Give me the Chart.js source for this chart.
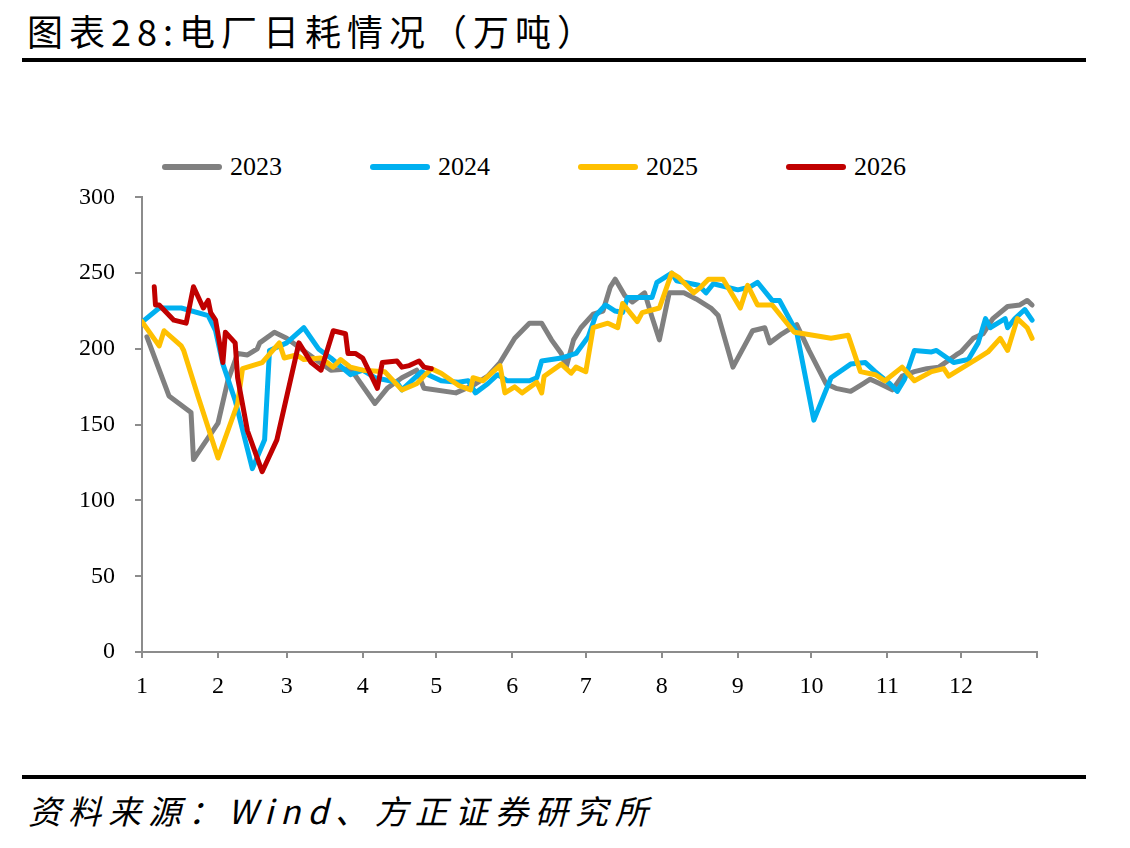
<!DOCTYPE html>
<html>
<head>
  <meta charset="UTF-8">
  <title>电厂日耗情况</title>
  <script src="https://cdn.jsdelivr.net/npm/chart.js"></script>
  <style>
    body {
      margin: 0;
      background: #fff;
      width: 1130px;
      height: 848px;
      position: relative;
      overflow: hidden;
    }
    #title {
      position: absolute;
      left: 27px;
      top: 4px;
      font-family: "Noto Sans CJK SC", sans-serif;
      font-size: 36px;
      letter-spacing: 6px;
      color: #000;
      white-space: nowrap;
    }
    .rule {
      position: absolute;
      left: 22px;
      width: 1064px;
      height: 4px;
      background: #000;
    }
    #source {
      position: absolute;
      left: 28px;
      top: 786px;
      font-family: "Noto Sans CJK SC", sans-serif;
      font-style: italic;
      font-size: 33px;
      letter-spacing: 7px;
      color: #000;
      white-space: nowrap;
    }
    #legend {
      position: absolute;
      left: 162px;
      top: 152px;
      display: flex;
    }
    #legend .item {
      width: 208px;
      display: flex;
      align-items: center;
    }
    #legend .swatch {
      width: 60px;
      height: 6px;
      border-radius: 3px;
      margin-right: 8px;
    }
    #legend .label {
      font-family: "Liberation Serif", serif;
      font-size: 26px;
      color: #000;
    }
    #chartBox {
      position: absolute;
      left: 0;
      top: 163px;
      width: 1072px;
      height: 557px;
    }
  </style>
</head>
<body>
  <div id="title">图表28:电厂日耗情况（万吨）</div>
  <div class="rule" style="top:58px"></div>

  <div id="legend"></div>
  <div id="chartBox"><canvas id="coalChart"></canvas></div>

  <div class="rule" style="top:775px"></div>
  <div id="source">资料来源：Wind、方正证券研究所</div>

  <script>
  // x axis: day of year, ticks at the first day of each month
  const monthStarts = [0, 31, 59, 90, 120, 151, 181, 212, 243, 273, 304, 334, 365];
  const monthLabels = ['1', '2', '3', '4', '5', '6', '7', '8', '9', '10', '11', '12', ''];

  // 2023 (day of year / 万吨)
  const days2023 = [2, 11, 20, 21, 31, 35, 39, 43, 47, 48, 54, 59, 70, 77, 85, 95, 100, 106, 112, 115, 128, 135, 141, 146, 152, 158, 163, 167, 171, 173, 176, 179, 184, 188, 191, 193, 197, 200, 205, 208, 211, 215, 221, 226, 232, 235, 241, 247, 249, 254, 256, 261, 267, 272, 279, 283, 289, 294, 297, 301, 306, 310, 315, 320, 325, 332, 334, 339, 343, 347, 353, 358, 361, 363];
  const vals2023 = [208, 169, 158, 127, 151, 179, 197, 196, 200, 204, 211, 207, 194, 186, 187, 164, 174, 181, 186, 174, 171, 176, 182, 191, 207, 217, 217, 206, 197, 188, 206, 214, 223, 225, 241, 246, 235, 231, 237, 221, 206, 237, 237, 233, 227, 222, 188, 206, 212, 214, 204, 210, 216, 199, 177, 174, 172, 177, 180, 177, 173, 182, 185, 187, 188, 196, 198, 207, 210, 220, 228, 229, 232, 229];

  // 2024
  const days2024 = [1, 7, 16, 27, 30, 33, 38, 45, 50, 52, 59, 66, 72, 77, 85, 90, 95, 104, 106, 114, 122, 129, 133, 136, 141, 145, 149, 158, 161, 163, 171, 177, 182, 185, 189, 193, 196, 198, 208, 210, 216, 218, 227, 230, 233, 243, 248, 251, 257, 260, 266, 267, 274, 281, 289, 295, 299, 305, 308, 311, 315, 322, 324, 331, 337, 341, 344, 346, 352, 353, 356, 360, 363];
  const vals2024 = [219, 227, 227, 222, 212, 190, 166, 121, 140, 199, 204, 214, 200, 194, 183, 186, 181, 178, 173, 185, 179, 178, 179, 171, 177, 183, 179, 179, 181, 192, 194, 197, 208, 222, 229, 225, 224, 234, 234, 244, 250, 245, 242, 237, 243, 239, 241, 244, 232, 232, 214, 211, 153, 181, 190, 191, 185, 177, 172, 180, 199, 198, 199, 191, 193, 204, 220, 214, 220, 214, 220, 226, 219];

  // 2025
  const days2025 = [0, 7, 9, 16, 17, 23, 31, 39, 41, 49, 56, 58, 63, 66, 73, 78, 81, 85, 90, 99, 106, 112, 118, 122, 129, 134, 135, 139, 146, 148, 152, 155, 161, 163, 164, 171, 175, 177, 181, 184, 190, 194, 196, 202, 204, 211, 216, 219, 225, 228, 231, 237, 244, 247, 251, 257, 266, 270, 281, 288, 293, 299, 303, 310, 315, 322, 327, 329, 334, 341, 345, 350, 353, 357, 361, 363];
  const vals2025 = [218, 202, 212, 202, 199, 168, 128, 164, 187, 191, 204, 194, 196, 193, 194, 188, 193, 188, 186, 185, 173, 177, 187, 184, 176, 173, 181, 179, 189, 171, 175, 171, 178, 171, 182, 190, 184, 188, 185, 214, 217, 214, 230, 218, 224, 227, 250, 247, 237, 241, 246, 246, 227, 242, 229, 229, 211, 210, 207, 209, 185, 183, 179, 188, 179, 185, 187, 182, 187, 194, 198, 207, 199, 220, 214, 207];

  // 2026
  const days2026 = [5, 5.5, 7, 13, 18, 21, 25, 27, 28, 30, 33, 34, 38, 39, 43, 49, 55, 64, 69, 73, 78, 83, 84, 87, 90, 96, 98, 104, 106, 109, 113, 115, 118];
  const vals2026 = [241, 229, 229, 219, 217, 241, 227, 232, 224, 219, 191, 211, 204, 181, 146, 119, 140, 204, 191, 186, 212, 210, 197, 197, 194, 174, 191, 192, 188, 189, 192, 188, 187];

  const seriesNames = ['2023', '2024', '2025', '2026'];
  const seriesColors = ['#808080', '#00B0F0', '#FFC000', '#C00000'];
  const seriesDays = [days2023, days2024, days2025, days2026];
  const seriesVals = [vals2023, vals2024, vals2025, vals2026];

  const datasets = seriesNames.map((name, i) => ({
    label: name,
    data: seriesDays[i].map((d, k) => ({ x: d, y: seriesVals[i][k] })),
    borderColor: seriesColors[i],
    backgroundColor: seriesColors[i],
    borderWidth: 5,
    borderJoinStyle: 'round',
    borderCapStyle: 'round',
    pointRadius: 0,
    tension: 0,
    order: seriesNames.length - i   // later years on top
  }));

  const axisGray = '#8c8c8c';
  const tickFont = { family: 'Liberation Serif', size: 24 };

  const chart = new Chart(document.getElementById('coalChart'), {
    type: 'line',
    data: { datasets: datasets },
    options: {
      responsive: true,
      maintainAspectRatio: false,
      animation: false,
      layout: { padding: { left: 60, right: 35, top: 0, bottom: 18 } },
      plugins: {
        legend: { display: false },
        tooltip: { enabled: false }
      },
      scales: {
        x: {
          type: 'linear',
          min: 0,
          max: 365,
          afterBuildTicks: (scale) => {
            scale.ticks = monthStarts.map(v => ({ value: v }));
          },
          afterFit: (scale) => { scale.height = 50; },
          ticks: {
            autoSkip: false,
            maxRotation: 0,
            padding: 14,
            color: '#000',
            font: tickFont,
            callback: (value, index) => monthLabels[index]
          },
          grid: { drawOnChartArea: false, drawTicks: true, tickLength: 6, color: axisGray, lineWidth: 2 },
          border: { color: axisGray, width: 2 }
        },
        y: {
          min: 0,
          max: 300,
          afterFit: (scale) => { scale.width = 82; },
          ticks: {
            stepSize: 50,
            padding: 20,
            color: '#000',
            font: tickFont
          },
          grid: { drawOnChartArea: false, drawTicks: true, tickLength: 7, color: axisGray, lineWidth: 2 },
          border: { color: axisGray, width: 2 }
        }
      }
    }
  });

  // legend built from the chart's datasets, in year order
  const legendDiv = document.getElementById('legend');
  chart.data.datasets.forEach(ds => {
    const item = document.createElement('div');
    item.className = 'item';
    item.innerHTML = '<div class="swatch" style="background:' + ds.borderColor + '"></div>' +
                     '<span class="label">' + ds.label + '</span>';
    legendDiv.appendChild(item);
  });
  </script>
</body>
</html>
